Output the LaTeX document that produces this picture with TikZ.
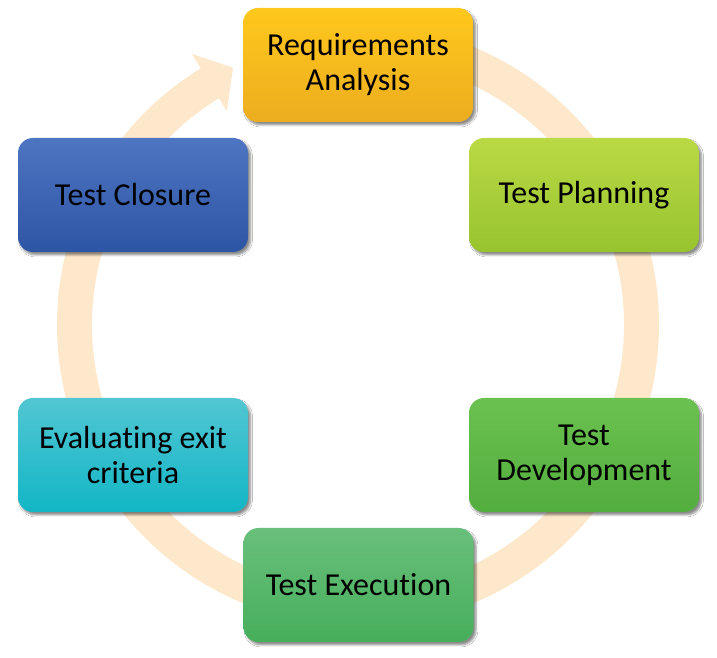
\documentclass[tikz,border=0pt]{standalone}
\usepackage{fontspec}
\setmainfont[Ligatures={NoCommon}]{Carlito}
\usetikzlibrary{shadows.blur}
\definecolor{ringc}{HTML}{FDE8CB}
\definecolor{reqT}{HTML}{FFC81C}\definecolor{reqB}{HTML}{ECAD1F}
\definecolor{plaT}{HTML}{BAD944}\definecolor{plaB}{HTML}{97C42E}
\definecolor{devT}{HTML}{6BC14F}\definecolor{devB}{HTML}{52AE3D}
\definecolor{exeT}{HTML}{69BF7B}\definecolor{exeB}{HTML}{46AF5B}
\definecolor{evaT}{HTML}{52C6D3}\definecolor{evaB}{HTML}{12B6C6}
\definecolor{cloT}{HTML}{4E75C1}\definecolor{cloB}{HTML}{2D55A5}
\tikzset{
  stagebox/.style 2 args={rectangle, rounded corners=15pt, minimum width=230pt, minimum height=114pt,
    top color=#1, bottom color=#2, draw=none, align=center, text=black,
    font=\fontsize{32}{35}\selectfont,
    blur shadow={shadow xshift=2.5pt, shadow yshift=-3pt, shadow blur steps=6, shadow opacity=45, shadow blur extra rounding=2pt}}
}
\begin{document}
\begin{tikzpicture}[x=1pt,y=1pt]
\useasboundingbox[fill=white] (0,0) rectangle (717,658);
\begin{scope}[shift={(358,333)}]
\fill[ringc] (90:301) arc[start angle=90, end angle=-238.5, radius=301]
  -- (121.5:318) -- (115.9:286) -- (121.5:251) -- (121.5:266)
  arc[start angle=-238.5, end angle=90, radius=266] -- cycle;
\end{scope}
\node[stagebox={reqT}{reqB}] (req) at (358,593) {Requirements\\Analysis};
\node[stagebox={plaT}{plaB}] (pla) at (584,463) {Test Planning};
\node[stagebox={devT}{devB}] (dev) at (584,203) {Test\\Development};
\node[stagebox={exeT}{exeB}] (exe) at (358.5,73) {Test Execution};
\node[stagebox={evaT}{evaB}] (eva) at (133,203) {Evaluating exit\\criteria};
\node[stagebox={cloT}{cloB}] (clo) at (133,463) {Test Closure};
\end{tikzpicture}
\end{document}
